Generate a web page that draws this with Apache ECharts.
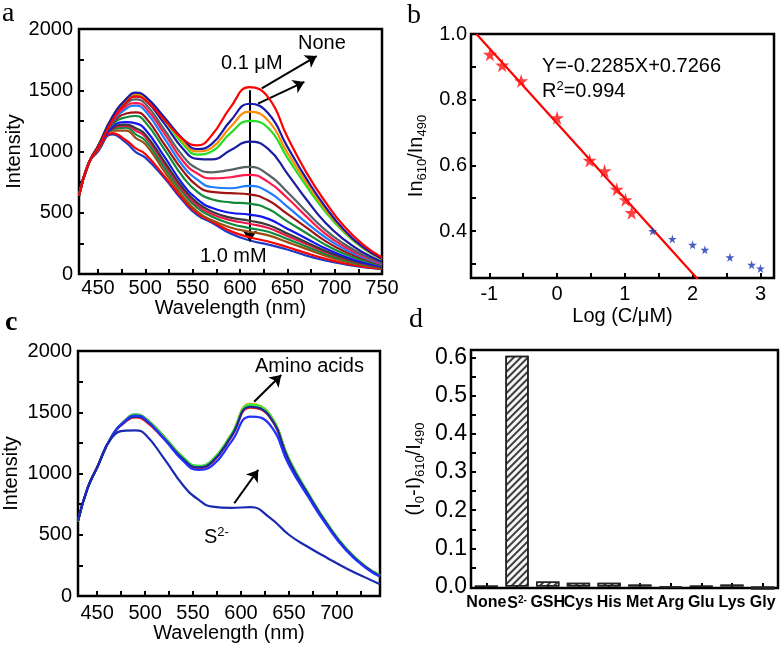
<!DOCTYPE html>
<html>
<head>
<meta charset="utf-8">
<script src="https://cdn.jsdelivr.net/npm/echarts@6/dist/echarts.min.js"></script>
<style>
html, body { margin: 0; padding: 0; background: #fff; }
#fig { width: 784px; height: 647px; }
</style>
</head>
<body>
<div id="fig"></div>
<script>
// panel a: emission spectra with increasing S2- concentration
var waveA = [430, 440, 450, 465, 480, 490, 500, 520, 540, 555, 570, 590, 610, 630, 650, 670, 690, 710, 730, 750];
var concA = ['None', '0.1 μM', '0.15 μM', '0.3 μM', '1 μM', '3 μM', '5 μM', '7.5 μM', '10 μM', '12.5 μM',
             '25 μM', '50 μM', '100 μM', '150 μM', '350 μM', '750 μM', '1.0 mM'];
var colorsA = ['#ff0000', '#1a1aa8', '#ff8c00', '#22dd22', '#1c1ca0', '#566262', '#ff1a4a', '#1e7cff', '#a01414',
               '#138a3a', '#1414ee', '#3a3a3a', '#e8184a', '#0e8a3c', '#9c4c10', '#ff0000', '#1c3cc8'];
var spectraA = [
  [640, 900, 1030, 1250, 1400, 1450, 1420, 1260, 1100, 1050, 1130, 1360, 1525, 1440, 1120, 830, 590, 390, 240, 135],
  [640, 900, 1040, 1280, 1430, 1480, 1450, 1280, 1100, 1020, 1060, 1250, 1390, 1310, 1040, 780, 550, 360, 220, 125],
  [640, 900, 1040, 1280, 1430, 1470, 1440, 1270, 1080, 1000, 1030, 1200, 1325, 1250, 990, 750, 530, 350, 215, 120],
  [640, 900, 1040, 1280, 1420, 1460, 1430, 1260, 1060, 975, 1000, 1150, 1250, 1190, 950, 720, 510, 340, 210, 118],
  [640, 900, 1040, 1270, 1410, 1450, 1420, 1230, 1020, 940, 935, 1010, 1080, 1020, 820, 610, 420, 280, 175, 100],
  [640, 900, 1040, 1260, 1390, 1425, 1390, 1180, 960, 860, 830, 850, 875, 810, 670, 510, 360, 245, 155, 90],
  [640, 900, 1040, 1250, 1370, 1395, 1360, 1150, 920, 820, 780, 790, 810, 750, 620, 470, 330, 225, 145, 85],
  [640, 900, 1040, 1240, 1350, 1375, 1330, 1110, 880, 770, 710, 700, 720, 670, 550, 420, 300, 205, 135, 80],
  [640, 900, 1040, 1230, 1310, 1320, 1280, 1060, 840, 720, 670, 660, 650, 600, 490, 380, 270, 185, 125, 75],
  [640, 900, 1040, 1220, 1280, 1290, 1240, 1020, 790, 670, 610, 585, 575, 530, 430, 335, 240, 165, 110, 70],
  [640, 900, 1030, 1200, 1240, 1230, 1180, 960, 730, 610, 540, 500, 485, 450, 370, 290, 210, 145, 95, 62],
  [640, 900, 1030, 1190, 1220, 1190, 1140, 920, 700, 580, 510, 460, 435, 400, 330, 260, 190, 130, 88, 58],
  [640, 900, 1030, 1185, 1210, 1170, 1120, 900, 680, 560, 490, 440, 410, 375, 310, 245, 180, 125, 84, 55],
  [640, 900, 1025, 1180, 1195, 1140, 1090, 870, 660, 540, 470, 410, 375, 345, 285, 225, 165, 115, 78, 52],
  [640, 900, 1020, 1170, 1170, 1110, 1060, 840, 630, 510, 440, 380, 345, 315, 260, 205, 150, 105, 72, 48],
  [640, 900, 1010, 1150, 1090, 1025, 980, 800, 610, 495, 430, 350, 300, 265, 220, 170, 125, 88, 60, 42],
  [640, 900, 1000, 1140, 1070, 995, 950, 785, 595, 480, 420, 330, 275, 240, 200, 150, 110, 80, 55, 40]
];

// panel b: ratio vs log concentration
var linearPts = [[-0.99, 0.938], [-0.81, 0.905], [-0.53, 0.857], [0, 0.745], [0.48, 0.615],
                 [0.70, 0.583], [0.88, 0.527], [1.01, 0.495], [1.10, 0.456]];
var highPts = [[1.41, 0.40], [1.70, 0.376], [2.0, 0.358], [2.18, 0.343], [2.55, 0.32], [2.87, 0.297], [3.0, 0.286]];
var fitLine = [[-1.19, 1.0], [2.09, 0.25]];

// panel c: spectra with amino acids and S2-
var waveC = [430, 440, 450, 465, 480, 490, 500, 520, 540, 555, 570, 590, 610, 630, 650, 670, 690, 710, 730, 745];
var colorsC = ['#129a48', '#ff9900', '#33ee33', '#ee1111', '#1a2a9a', '#2030ff', '#1a2ab0'];
var spectraC = [
  [610, 880, 1050, 1300, 1440, 1482, 1455, 1300, 1130, 1062, 1110, 1320, 1560, 1480, 1120, 840, 590, 385, 240, 168],
  [610, 880, 1050, 1300, 1435, 1475, 1450, 1295, 1125, 1058, 1105, 1320, 1568, 1485, 1115, 835, 585, 380, 238, 165],
  [610, 880, 1050, 1300, 1435, 1478, 1450, 1295, 1128, 1060, 1108, 1320, 1562, 1480, 1118, 840, 590, 385, 242, 170],
  [615, 880, 1050, 1300, 1425, 1458, 1430, 1280, 1110, 1045, 1090, 1300, 1538, 1460, 1100, 825, 580, 375, 235, 162],
  [615, 880, 1050, 1300, 1430, 1465, 1440, 1285, 1115, 1050, 1095, 1305, 1545, 1465, 1105, 830, 582, 378, 236, 164],
  [615, 880, 1050, 1300, 1435, 1472, 1445, 1280, 1100, 1030, 1065, 1260, 1465, 1400, 1070, 810, 570, 370, 230, 158],
  [615, 880, 1050, 1290, 1350, 1352, 1320, 1120, 900, 790, 730, 720, 725, 640, 500, 400, 310, 225, 150, 95]
];

// panel d: selectivity
var analytes = ['None', 'S2-', 'GSH', 'Cys', 'His', 'Met', 'Arg', 'Glu', 'Lys', 'Gly'];
var response = [0.001, 0.605, 0.013, 0.010, 0.010, 0.005, -0.003, 0.001, 0.005, -0.008];

var FONT = 'Liberation Sans, Arial, sans-serif';
var SERIF = 'Liberation Serif, Times New Roman, serif';

function range(a, b, step) {
  var out = [];
  for (var v = a; v <= b + 1e-9; v += step) out.push(Math.round(v * 1000) / 1000);
  return out;
}

function plain(v) { return String(v); }

function valueAxis(grid, min, max, labels, ticks, opts) {
  var ax = {
    type: 'value', gridIndex: grid, min: min, max: max,
    axisLine: { show: false, onZero: false },
    splitLine: { show: false },
    axisTick: { show: true, inside: true, length: 5, customValues: ticks,
                lineStyle: { color: '#000', width: 2 } },
    axisLabel: { customValues: labels, color: '#000', fontFamily: FONT, fontSize: 20, margin: 6, formatter: plain },
    nameLocation: 'middle',
    nameTextStyle: { color: '#000', fontFamily: FONT, fontSize: 20 }
  };
  for (var k in opts) {
    if (typeof opts[k] === 'object' && ax[k] && !Array.isArray(opts[k])) {
      for (var j in opts[k]) ax[k][j] = opts[k][j];
    } else {
      ax[k] = opts[k];
    }
  }
  return ax;
}

var subRich = {
  n: { fontSize: 20, fontFamily: FONT, color: '#000' },
  s: { fontSize: 13, fontFamily: FONT, color: '#000', padding: [12, 0, 0, 0] },
  p: { fontSize: 13, fontFamily: FONT, color: '#000', padding: [0, 0, 10, 0] }
};

var series = [];
spectraA.forEach(function (row, i) {
  series.push({
    type: 'line', name: concA[i], xAxisIndex: 0, yAxisIndex: 0,
    smooth: true, showSymbol: false, z: 3 + (17 - i),
    lineStyle: { width: 2.2, color: colorsA[i] },
    data: waveA.map(function (w, j) { return [w, row[j]]; })
  });
});
spectraC.forEach(function (row, i) {
  series.push({
    type: 'line', xAxisIndex: 2, yAxisIndex: 2,
    smooth: true, showSymbol: false,
    lineStyle: { width: 2.2, color: colorsC[i] },
    data: waveC.map(function (w, j) { return [w, row[j]]; })
  });
});

var star = 'path://M50,0 L61,35 L98,35 L68,57 L79,91 L50,70 L21,91 L32,57 L2,35 L39,35 Z';
var arrowStyle = { color: '#000', width: 2, type: 'solid' };

series.push({
  type: 'line', xAxisIndex: 1, yAxisIndex: 1, data: fitLine, showSymbol: false,
  lineStyle: { color: '#ff0000', width: 2.2 }, z: 2
});
series.push({
  type: 'scatter', xAxisIndex: 1, yAxisIndex: 1, data: linearPts, symbol: star, symbolSize: 14,
  itemStyle: { color: '#ff1010' }, z: 4
});
series.push({
  type: 'scatter', xAxisIndex: 1, yAxisIndex: 1, data: highPts, symbol: star, symbolSize: 9,
  itemStyle: { color: '#1a35b0' }, z: 4
});

series.push({
  type: 'bar', xAxisIndex: 3, yAxisIndex: 3, data: response, barWidth: '76%', clip: false,
  itemStyle: {
    color: '#f6f6f6', borderColor: '#222', borderWidth: 1.5,
    decal: { symbol: 'rect', symbolSize: 1, color: 'rgba(0,0,0,0.75)',
             dashArrayX: [1, 0], dashArrayY: [1.5, 3], rotation: -Math.PI / 4 }
  }
});

// arrows, in data coordinates
series.push({
  type: 'line', xAxisIndex: 0, yAxisIndex: 0, data: [],
  markLine: {
    silent: true, symbol: ['none', 'arrow'], symbolSize: 11, label: { show: false },
    lineStyle: arrowStyle, animation: false,
    data: [
      [{ coord: [610.5, 1500] }, { coord: [610.5, 265] }],
      [{ coord: [623, 1515] }, { coord: [681, 1779] }],
      [{ coord: [619, 1391] }, { coord: [668, 1568] }]
    ]
  }
});
series.push({
  type: 'line', xAxisIndex: 2, yAxisIndex: 2, data: [],
  markLine: {
    silent: true, symbol: ['none', 'arrow'], symbolSize: 11, label: { show: false },
    lineStyle: arrowStyle, animation: false,
    data: [
      [{ coord: [613.7, 1586] }, { coord: [642, 1804] }],
      [{ coord: [593, 757] }, { coord: [618, 1029] }]
    ]
  }
});

function txt(left, top, text, size, extra) {
  var st = { text: text, fill: '#000', font: size + 'px ' + FONT };
  for (var k in extra) st[k] = extra[k];
  return { type: 'text', left: left, top: top, style: st, z: 100 };
}

var boldCat = 'Liberation Sans Narrow, Liberation Sans, Arial';

var option = {
  animation: false,
  backgroundColor: '#fff',
  textStyle: { fontFamily: FONT },
  grid: [
    { left: 79, top: 29, width: 303, height: 245, show: true, borderColor: '#000', borderWidth: 2.5 },
    { left: 471, top: 34, width: 303, height: 244, show: true, borderColor: '#000', borderWidth: 2.5 },
    { left: 77, top: 351, width: 303, height: 245, show: true, borderColor: '#000', borderWidth: 2.5 },
    { left: 471, top: 350, width: 307, height: 238, show: true, borderColor: '#000', borderWidth: 2.5 }
  ],
  xAxis: [
    valueAxis(0, 430, 750, range(450, 750, 50), range(450, 750, 25),
      { name: 'Wavelength (nm)', nameGap: 20, axisLabel: { margin: 4 } }),
    valueAxis(1, -1.27, 3.2, [-1, 0, 1, 2, 3], range(-1, 3, 0.5),
      { name: 'Log (C/μM)', nameGap: 28, axisLabel: { margin: 6 } }),
    valueAxis(2, 430, 745, range(450, 700, 50), range(450, 725, 25),
      { name: 'Wavelength (nm)', nameGap: 27, axisLabel: { margin: 7 } }),
    {
      type: 'category', gridIndex: 3, data: analytes,
      axisLine: { show: false, onZero: false },
      axisTick: { show: true, inside: true, alignWithLabel: true, length: 5, lineStyle: { color: '#000', width: 2 } },
      axisLabel: {
        interval: 0, margin: 7, color: '#000',
        formatter: function (v) { return v === 'S2-' ? '{b|S}{sup|2-}' : '{b|' + v + '}'; },
        rich: {
          b: { fontSize: 16, fontWeight: 'bold', fontFamily: boldCat, color: '#000' },
          sup: { fontSize: 10, fontWeight: 'bold', fontFamily: boldCat, color: '#000', padding: [0, 0, 8, 0] }
        }
      }
    }
  ],
  yAxis: [
    valueAxis(0, 0, 2000, range(0, 2000, 500), range(250, 1750, 250),
      { name: 'Intensity', nameGap: 54 }),
    valueAxis(1, 0.257, 1.0, [0.4, 0.6, 0.8, 1.0], range(0.3, 0.9, 0.1),
      { name: '{n|In}{s|610}{n|/In}{s|490}', nameGap: 42,
        nameTextStyle: { rich: subRich },
        axisLabel: { margin: 4, fontSize: 20, formatter: function (v) { return v.toFixed(1); } } }),
    valueAxis(2, 0, 2000, range(0, 2000, 500), range(250, 1750, 250),
      { name: 'Intensity', nameGap: 57 }),
    valueAxis(3, -0.004, 0.62, range(0, 0.6, 0.1), range(0.05, 0.6, 0.05),
      { name: '{n|(I}{s|0}{n|-I)}{s|610}{n|/I}{s|490}', nameGap: 44,
        nameTextStyle: { rich: subRich },
        axisLabel: { margin: 4, fontSize: 23, formatter: function (v) { return v.toFixed(1); } } })
  ],
  series: series,
  graphic: [
    txt(2, 0, 'a', 28, { font: '28px ' + SERIF }),
    txt(407, 2, 'b', 28, { font: '28px ' + SERIF }),
    txt(5, 309, 'c', 28, { font: 'bold 28px ' + SERIF }),
    txt(409, 306, 'd', 28, { font: '28px ' + SERIF }),
    txt(298, 33, 'None', 20),
    txt(221, 53, '0.1 μM', 20),
    txt(200, 246, '1.0 mM', 20),
    txt(542, 56, 'Y=-0.2285X+0.7266', 20),
    {
      type: 'text', left: 542, top: 80, z: 100,
      style: { text: '{n|R}{p|2}{n|=0.994}', rich: subRich, fill: '#000' }
    },
    txt(255, 356, 'Amino acids', 20),
    {
      type: 'text', left: 204, top: 526, z: 100,
      style: { text: '{n|S}{p|2-}', rich: subRich, fill: '#000' }
    }
  ]
};

var chart = echarts.init(document.getElementById('fig'));
chart.setOption(option);
</script>
</body>
</html>
